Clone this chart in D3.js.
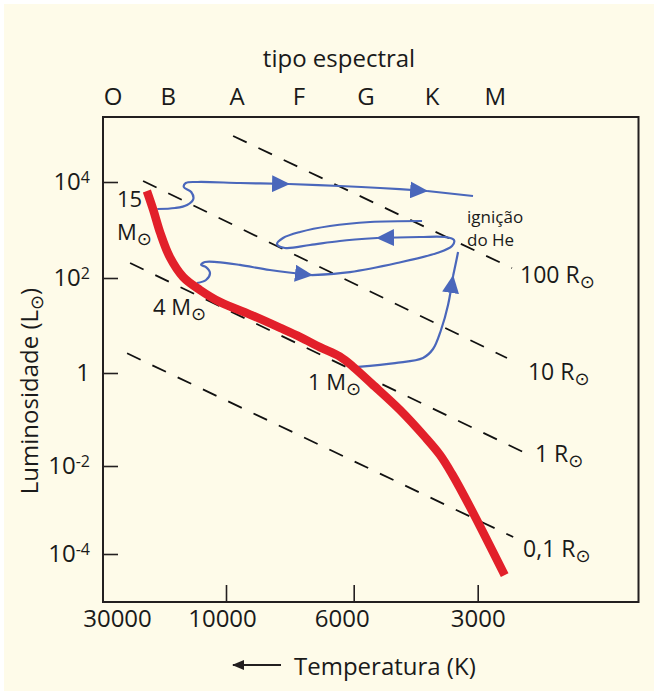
<!DOCTYPE html>
<html><head><meta charset="utf-8">
<script src="https://cdn.jsdelivr.net/npm/d3@7"></script>
<style>
html,body{margin:0;padding:0;background:#fff;}
svg text{font-family:"Open Sans",sans-serif;fill:#1a1a1a;}
</style></head><body>
<svg id="c" width="658" height="695"></svg>
<script>
// ---------- data ----------
const spectralTypes = ["O","B","A","F","G","K","M"];
const spectralTemps = [31200,17900,9570,7470,5600,3870,2720];
const tempTicks = [30000,10000,6000,3000];
const lumTicks = [1e4,1e2,1,1e-2,1e-4];
const lumTickBase = ["10","10","1","10","10"];
const lumTickExp = ["4","2","","-2","-4"];

// main sequence (temperature K, luminosity Lsun)
const msTemp = [22200,20800,19400,17600,15400,13000,10600,9080,8050,7430,6870,6340,6010,5415,4631,4027,3703,3463,3131,2580];
const msLum  = [6500,2600,870,270,105,56,31,17,8.9,5.7,3.5,2.2,1.34,0.58,0.16,0.042,0.01725,0.00658,0.00117,3.3e-5];

// evolutionary tracks, split at arrow heads: [T, L]
const track15 = [
  [[20000,2740],[16700,2870],[14800,3320],[13900,4430],[14200,6190],[15300,7870],[15000,9530],[13300,10000],[9460,9530],[7770,9090]],
  [[7770,9090],[6340,8250],[5180,7500],[3980,6490]],
  [[3980,6490],[3080,5110]]
];
const track4 = [
  [[13400,78.5],[12230,90.7],[11750,127],[12230,169],[12850,187],[12360,215],[10950,215],[9460,187],[8390,147],[7090,115]],
  [[7090,115],[6090,133],[4710,205],[3766,332],[3463,464],[3425,619],[3601,714],[4140,714],[5264,681]],
  [[5264,681],[6340,590],[7145,487],[7900,422],[8154,511],[7960,681],[7437,909],[6598,1212],[5474,1468],[4095,1540]]
];
const track1 = [
  [[5855,1.34],[4763,1.62],[4073,2.07],[3851,3.2],[3683,8.04],[3541,27],[3443,110]],
  [[3443,110],[3386,215],[3348,348]]
];

// constant-radius lines
const radiusLabels = ["100 R","10 R","1 R","0,1 R"];
const radiusStart = [[9720,90800],[23070,10490],[26300,205],[27100,2.6]];
const radiusEnd   = [[2477,161],[2547,2.07],[2300,0.019],[2460,2.43e-4]];
const radiusLabelAt = [[2368,78.5],[2265,0.707],[2178,0.0122],[2328,8.5e-5]];

// mass labels
const massLabels = ["15","4 M","1 M"];
const massLabelAt = [[30000,3010],[20870,16.6],[7205,0.431]];
const heLabel = ["igni\u00e7\u00e3o","do He"];
const heLabelAt = [3184,1400];

// ---------- drawing ----------
const svg = d3.select("#c");
const blue = "#4a67bb", red = "#e2202a", ink = "#231f20";
const frame = {left:103, right:638.5, top:117, bottom:602};

svg.append("rect").attr("x",4).attr("y",4).attr("width",650).attr("height",687).attr("fill","#fefbe9");

const x = d3.scaleLog().domain([30000,10000,6000,3000]).range([117,226,353.7,477.7]);
const y = d3.scaleLog().domain([1e4,1e2,1,1e-2,1e-4]).range([182,278,373,466,554]);

const defs = svg.append("defs");
defs.append("marker").attr("id","arr").attr("viewBox","0 0 18 17")
  .attr("refX",17).attr("refY",8.5).attr("markerWidth",18).attr("markerHeight",17)
  .attr("markerUnits","userSpaceOnUse").attr("orient","auto")
  .append("path").attr("d","M0,0L18,8.5L0,17Z").attr("fill",blue);
defs.append("marker").attr("id","arrK").attr("viewBox","0 0 12 10")
  .attr("refX",11).attr("refY",5).attr("markerWidth",12).attr("markerHeight",10)
  .attr("markerUnits","userSpaceOnUse").attr("orient","auto")
  .append("path").attr("d","M0,0L12,5L0,10Z").attr("fill",ink);

// frame
svg.append("rect").attr("x",frame.left).attr("y",frame.top)
  .attr("width",frame.right-frame.left).attr("height",frame.bottom-frame.top)
  .attr("fill","none").attr("stroke",ink).attr("stroke-width",2);

// bottom axis
const gx = svg.append("g").attr("transform",`translate(0,${frame.bottom})`)
  .call(d3.axisBottom(x).tickValues(tempTicks).tickSize(-17).tickPadding(8).tickFormat(d3.format("d")));
gx.select(".domain").remove();
gx.selectAll(".tick").filter(d => d === 30000).select("line").remove();
gx.selectAll(".tick line").attr("stroke",ink).attr("stroke-width",1.6);
gx.selectAll(".tick text").attr("font-size",24).attr("fill","#1a1a1a")
  .attr("dx", d => d === 6000 ? -12 : d === 10000 ? -4 : 0);

// left axis
const gy = svg.append("g").attr("transform",`translate(${frame.left},0)`)
  .call(d3.axisLeft(y).tickValues(lumTicks).tickSize(-15).tickPadding(13));
gy.select(".domain").remove();
gy.selectAll(".tick line").attr("stroke",ink).attr("stroke-width",1.6);
gy.selectAll(".tick text").each(function(d,i){
  const t = d3.select(this).text("").attr("font-size",24).attr("fill","#1a1a1a");
  t.append("tspan").text(lumTickBase[i]);
  if (lumTickExp[i]) t.append("tspan").attr("font-size",16).attr("dy",-7).text(lumTickExp[i]);
});

// spectral types
svg.append("g").selectAll("text").data(spectralTypes).join("text")
  .attr("x",(d,i)=>x(spectralTemps[i])).attr("y",105).attr("text-anchor","middle")
  .attr("font-size",24).text(d=>d);
svg.append("text").attr("x",339).attr("y",67).attr("text-anchor","middle")
  .attr("font-size",24).text("tipo espectral");

// axis titles
svg.append("text").attr("x",294).attr("y",675).attr("font-size",24).text("Temperatura (K)");
svg.append("line").attr("x1",281).attr("x2",233).attr("y1",665).attr("y2",665)
  .attr("stroke",ink).attr("stroke-width",1.8).attr("marker-end","url(#arrK)");

function sun(sel, size, down){
  return sel.append("tspan").style("font-family","DejaVu Sans")
    .attr("font-size",size).attr("dy",down).text("\u2299");
}
const yt = svg.append("text").attr("transform","translate(38,391) rotate(-90)")
  .attr("text-anchor","middle").attr("font-size",24);
yt.append("tspan").text("Luminosidade (L");
sun(yt,18,5);
yt.append("tspan").attr("dy",-5).text(")");

// radius lines
const lin = d3.line().x(d=>x(d[0])).y(d=>y(d[1]));
const gr = svg.append("g");
radiusLabels.forEach((lab,i)=>{
  gr.append("path").attr("d",lin([radiusStart[i],radiusEnd[i]]))
    .attr("fill","none").attr("stroke","#111").attr("stroke-width",1.8).attr("stroke-dasharray","15,13");
  const t = gr.append("text").attr("x",x(radiusLabelAt[i][0])).attr("y",y(radiusLabelAt[i][1])).attr("font-size",23);
  t.append("tspan").text(lab);
  sun(t,18,5);
});

// tracks
const curve = d3.line().x(d=>x(d[0])).y(d=>y(d[1])).curve(d3.curveCatmullRom.alpha(0.5));
function drawTrack(segs){
  segs.forEach((s,i)=>{
    svg.append("path").attr("d",curve(s)).attr("fill","none").attr("stroke",blue)
      .attr("stroke-width",2.2).attr("stroke-linejoin","round")
      .attr("marker-end", i < segs.length-1 ? "url(#arr)" : null);
  });
}
drawTrack(track15); drawTrack(track4); drawTrack(track1);

// main sequence
svg.append("path").attr("d",curve(msTemp.map((t,i)=>[t,msLum[i]])))
  .attr("fill","none").attr("stroke",red).attr("stroke-width",8.5).attr("stroke-linecap","butt");

// mass labels
const m15 = svg.append("text").attr("x",x(massLabelAt[0][0])).attr("y",y(massLabelAt[0][1])).attr("font-size",22);
m15.append("tspan").text(massLabels[0]);
const m15b = svg.append("text").attr("x",x(massLabelAt[0][0])).attr("y",y(massLabelAt[0][1])+33).attr("font-size",22);
m15b.append("tspan").text("M"); sun(m15b,18,5);
[1,2].forEach(i=>{
  const t = svg.append("text").attr("x",x(massLabelAt[i][0])).attr("y",y(massLabelAt[i][1])).attr("font-size",22);
  t.append("tspan").text(massLabels[i]); sun(t,18,5);
});
heLabel.forEach((s,i)=>{
  svg.append("text").attr("x",x(heLabelAt[0])).attr("y",y(heLabelAt[1])+i*23).attr("font-size",17).text(s);
});
</script></body></html>
